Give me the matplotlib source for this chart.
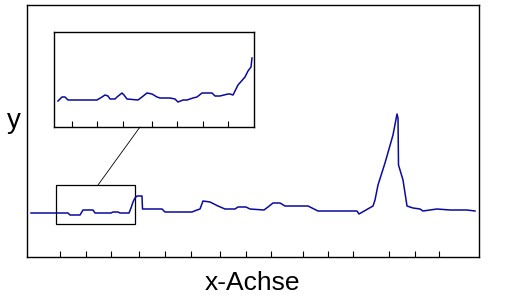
import numpy as np
import matplotlib
matplotlib.use("Agg")
import matplotlib.pyplot as plt
from matplotlib.patches import Rectangle, ConnectionPatch

plt.rcParams['font.family'] = ['Liberation Sans', 'DejaVu Sans']

# Hauptkurve (x, y in beliebigen Einheiten)
main_x = [4, 41, 43, 53, 56, 66, 68, 84, 86, 91, 93, 102, 104, 106, 108, 110, 115, 115.5,
          135, 138, 165, 170, 173, 176, 183, 191, 198, 208, 211, 219, 223, 237, 241, 246,
          253, 258, 281, 285, 291, 330, 332, 339, 346, 348, 351, 358, 366, 370, 371, 371.5,
          376, 380, 386, 393, 396, 403, 410, 423, 440, 448]
main_y = [44, 44, 42, 42, 47, 47, 44, 44, 45, 45, 44, 44, 49, 55, 59, 61, 61, 48,
          48, 45, 45, 47, 48, 56, 55, 51, 48, 48, 50, 50, 48, 47, 50, 54,
          54, 51, 51, 49, 46, 46, 43, 47, 51, 57, 72, 94, 122, 143, 139, 92,
          77, 51, 49, 48, 46, 47, 48, 47, 47, 46]

# Ausschnitt (Detailansicht im Inset)
inset_x = [4, 8, 11, 14, 43, 48, 51, 54, 56, 61, 63, 68, 70, 73, 84, 88, 93, 98, 103,
           106, 116, 121, 124, 129, 133, 139, 143, 148, 158, 161, 166, 174, 176, 179,
           184, 191, 194, 197, 198]
inset_y = [26, 30, 30, 27, 27, 30, 32, 31, 28, 28, 30, 34, 32, 28, 27, 30, 34, 33, 30,
           29, 29, 28, 25, 27, 27, 29, 30, 34, 34, 31, 31, 33, 33, 32, 42, 50, 56, 60, 69]

main_ticks = [33, 59, 84, 112, 138, 164, 193, 219, 244, 276, 301, 326, 362, 388, 412]
inset_ticks = [18, 43, 69, 98, 123, 149, 174]

line_color = '#0a0aa0'

fig = plt.figure(figsize=(5.12, 3.05), dpi=100)
ax = fig.add_axes([27 / 512, 48 / 305, 452 / 512, 252 / 305])
ax.plot(main_x, main_y, color=line_color, lw=1.1)
ax.set_xlim(0, 452)
ax.set_ylim(0, 252)
ax.set_xticks(main_ticks)
ax.set_xticklabels([])
ax.set_yticks([])
ax.tick_params(axis='x', direction='in', length=4.3, width=0.8)
for s in ax.spines.values():
    s.set_linewidth(1.0)

# Rechteck um den vergroesserten Bereich
ax.add_patch(Rectangle((29, 33), 79, 39, fill=False, edgecolor='black', lw=0.9))

axins = fig.add_axes([54 / 512, 178 / 305, 200 / 512, 95 / 305])
axins.plot(inset_x, inset_y, color=line_color, lw=1.1)
axins.set_xlim(0, 200)
axins.set_ylim(0, 95)
axins.set_xticks(inset_ticks)
axins.set_xticklabels([])
axins.set_yticks([])
axins.tick_params(axis='x', direction='in', length=4.3, width=0.8)
for s in axins.spines.values():
    s.set_linewidth(1.0)

con = ConnectionPatch(xyA=(71, 72), coordsA='data', axesA=ax,
                      xyB=(86, 0), coordsB='data', axesB=axins,
                      color='black', lw=0.6)
fig.add_artist(con)

fig.text(252.5 / 512, 15 / 305, 'x-Achse', ha='center', va='baseline', fontsize=19)
fig.text(14 / 512, 177 / 305, 'y', ha='center', va='baseline', fontsize=20)

fig.savefig('out.png', dpi=100)
